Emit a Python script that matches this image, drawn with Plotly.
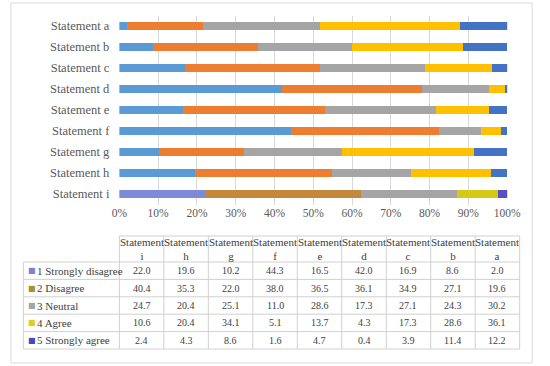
import plotly.graph_objects as go

statements = ["Statement i", "Statement h", "Statement g", "Statement f", "Statement e",
              "Statement d", "Statement c", "Statement b", "Statement a"]
col_headers = ["Statement<br>i", "Statement<br>h", "Statement<br>g", "Statement<br>f", "Statement<br>e",
               "Statement<br>d", "Statement<br>c", "Statement<br>b", "Statement<br>a"]
series_names = ["1 Strongly disagree", "2 Disagree", "3 Neutral", "4 Agree", "5 Strongly agree"]
strongly_disagree = [22.0, 19.6, 10.2, 44.3, 16.5, 42.0, 16.9, 8.6, 2.0]
disagree = [40.4, 35.3, 22.0, 38.0, 36.5, 36.1, 34.9, 27.1, 19.6]
neutral = [24.7, 20.4, 25.1, 11.0, 28.6, 17.3, 27.1, 24.3, 30.2]
agree = [10.6, 20.4, 34.1, 5.1, 13.7, 4.3, 17.3, 28.6, 36.1]
strongly_agree = [2.4, 4.3, 8.6, 1.6, 4.7, 0.4, 3.9, 11.4, 12.2]
x_ticks = [0, 10, 20, 30, 40, 50, 60, 70, 80, 90, 100]

series = [strongly_disagree, disagree, neutral, agree, strongly_agree]
bar_colors = ["#5B9BD5", "#ED7D31", "#A5A5A5", "#FFC000", "#4472C4"]
row_i_colors = ["#7B8BD8", "#C3893A", "#A5A5A5", "#D5C816", "#5850C0"]
legend_colors = ["#8080D0", "#A0962D", "#A5A5A5", "#D8D21E", "#4848B8"]

W, H = 550, 366
FONT = "Liberation Serif"
TEXT = "#404040"
GRID = "#D0D0D0"

fig = go.Figure()
for name, vals, c, ci in zip(series_names, series, bar_colors, row_i_colors):
    colors = [ci if s == "Statement i" else c for s in statements]
    fig.add_trace(go.Bar(
        y=statements, x=vals, name=name, orientation="h",
        marker=dict(color=colors, line=dict(width=0)),
        showlegend=False,
    ))

# ---- data table (layout geometry in pixels) ----
TX0, TX1 = 16, 533
FIRST_W = 100
ncol = len(statements)
COL_W = (TX1 - TX0 - FIRST_W) / ncol
TY0 = 236
HEAD_H = 26
ROW_H = 17.4
nrow = len(series_names)
TY1 = TY0 + HEAD_H + ROW_H * nrow

def px(x):
    return x / W

def py(y):
    return 1 - y / H

col_edges = [TX0, TX0 + FIRST_W] + [TX0 + FIRST_W + COL_W * (j + 1) for j in range(ncol)]

shapes = []
line_style = dict(color=GRID, width=1)
shapes.append(dict(type="line", xref="paper", yref="paper", x0=px(col_edges[1]), x1=px(TX1),
                   y0=py(TY0), y1=py(TY0), line=line_style))
for k in range(nrow + 1):
    yk = TY0 + HEAD_H + ROW_H * k
    shapes.append(dict(type="line", xref="paper", yref="paper", x0=px(TX0), x1=px(TX1),
                       y0=py(yk), y1=py(yk), line=line_style))
shapes.append(dict(type="line", xref="paper", yref="paper", x0=px(TX0), x1=px(TX0),
                   y0=py(TY0 + HEAD_H), y1=py(TY1), line=line_style))
for xe in col_edges[1:]:
    shapes.append(dict(type="line", xref="paper", yref="paper", x0=px(xe), x1=px(xe),
                       y0=py(TY0), y1=py(TY1), line=line_style))
shapes.append(dict(type="rect", xref="paper", yref="paper",
                   x0=px(3), x1=px(546), y0=py(363), y1=py(3),
                   line=dict(color="#D9D9D9", width=1), fillcolor="rgba(0,0,0,0)"))

annotations = []
for j, hdr in enumerate(col_headers):
    xc = TX0 + FIRST_W + COL_W * (j + 0.5)
    annotations.append(dict(xref="paper", yref="paper", x=px(xc), y=py(TY0 + HEAD_H / 2),
                            text=hdr, showarrow=False, xanchor="center", yanchor="middle",
                            font=dict(family=FONT, size=11, color=TEXT)))
for k, (name, vals, lc) in enumerate(zip(series_names, series, legend_colors)):
    yc = TY0 + HEAD_H + ROW_H * (k + 0.5)
    annotations.append(dict(xref="paper", yref="paper", x=px(TX0 + 3), y=py(yc),
                            text="■", showarrow=False, xanchor="left", yanchor="middle",
                            font=dict(family="DejaVu Sans", size=8, color=lc)))
    annotations.append(dict(xref="paper", yref="paper", x=px(TX0 + 12), y=py(yc),
                            text=name, showarrow=False, xanchor="left", yanchor="middle",
                            font=dict(family=FONT, size=11, color=TEXT)))
    for j, v in enumerate(vals):
        xc = TX0 + FIRST_W + COL_W * (j + 0.5)
        annotations.append(dict(xref="paper", yref="paper", x=px(xc), y=py(yc),
                                text=f"{v:.1f}", showarrow=False, xanchor="center", yanchor="middle",
                                font=dict(family=FONT, size=10, color=TEXT)))

fig.update_layout(
    width=W, height=H,
    margin=dict(l=0, r=0, t=0, b=0),
    barmode="stack",
    bargap=0.6,
    paper_bgcolor="white",
    plot_bgcolor="white",
    font=dict(family=FONT, color=TEXT),
    xaxis=dict(
        domain=[px(116), px(520)],
        range=[0, 100],
        tickvals=x_ticks,
        ticktext=[f"{t}%" for t in x_ticks],
        showgrid=True, gridcolor="#D9D9D9", gridwidth=1,
        zeroline=False, showline=False,
        tickfont=dict(family=FONT, size=11.5, color="#595959"),
        ticks="", ticklen=0,
    ),
    yaxis=dict(
        domain=[py(204.5), py(15.5)],
        showgrid=False, zeroline=False, showline=False,
        tickfont=dict(family=FONT, size=12.5, color="#595959"),
        ticks="", ticklen=0,
        ticklabelstandoff=9,
    ),
    annotations=annotations,
    shapes=shapes,
)

fig.write_html("out.html", config={"displayModeBar": False},
               post_script="document.body.style.margin='0';")
